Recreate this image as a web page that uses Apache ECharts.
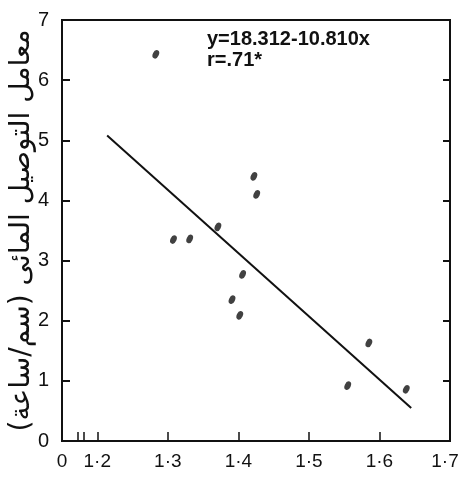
<!DOCTYPE html>
<html>
<head>
<meta charset="utf-8">
<script src="https://cdn.jsdelivr.net/npm/echarts@6/dist/echarts.min.js"></script>
<style>
html,body{margin:0;padding:0;background:#fff;}
#chart{width:461px;height:480px;}
</style>
</head>
<body>
<div id="chart"></div>
<script>
// Data
var bulkDensity = [1.283, 1.422, 1.426, 1.371, 1.308, 1.331, 1.406, 1.391, 1.402, 1.585, 1.555, 1.638];
var conductivity = [6.43, 4.40, 4.10, 3.56, 3.35, 3.36, 2.77, 2.35, 2.09, 1.63, 0.92, 0.86];
var fitX = [1.214, 1.645];
var fitY = [5.08, 0.55];
var xTickValues = [1.2, 1.3, 1.4, 1.5, 1.6, 1.7];
var xTickLabels = ['1·2', '1·3', '1·4', '1·5', '1·6', '1·7'];
var xBreakMarks = [1.173, 1.181];
var xOriginLabel = '0';
var yTickLabels = ['0', '1', '2', '3', '4', '5', '6', '7'];
var yAxisTitle = 'معامل التوصيل المائى (سم/ساعة)';
var equationText = 'y=18.312-10.810x';
var rText = 'r=.71*';

var xMin = 1.15, xMax = 1.7;
var narrow = "'Liberation Sans Narrow', 'Arial Narrow', 'Liberation Sans', sans-serif";

var points = bulkDensity.map(function (x, i) { return [x, conductivity[i]]; });
var fitLine = fitX.map(function (x, i) { return [x, fitY[i]]; });

var chart = echarts.init(document.getElementById('chart'));
chart.setOption({
  animation: false,
  backgroundColor: '#fff',
  grid: { left: 62, top: 20, right: 11, bottom: 39, show: true, borderColor: '#111', borderWidth: 2, containLabel: false, outerBoundsMode: 'none' },
  graphic: [
    { type: 'text', left: 207, top: 29, style: { text: equationText, font: "bold 20px " + narrow, fill: '#111' } },
    { type: 'text', left: 207, top: 50, style: { text: rText, font: "bold 20px " + narrow, fill: '#111' } }
  ],
  xAxis: [{
    type: 'value', min: xMin, max: xMax,
    axisLine: { show: true, onZero: false, lineStyle: { color: '#111', width: 2 } },
    axisTick: { show: true, inside: true, length: 9, customValues: xBreakMarks.concat(xTickValues), lineStyle: { color: '#111', width: 1.5 } },
    axisLabel: {
      customValues: [xMin].concat(xTickValues),
      margin: 11,
      color: '#111', fontFamily: narrow, fontSize: 19,
      rich: { last: { fontFamily: narrow, fontSize: 19, color: '#111', padding: [0, 10, 0, 0] } },
      formatter: function (v) {
        if (Math.abs(v - xMin) < 1e-6) return xOriginLabel;
        for (var i = 0; i < xTickValues.length; i++) {
          if (Math.abs(v - xTickValues[i]) < 1e-6) {
            return i === xTickValues.length - 1 ? '{last|' + xTickLabels[i] + '}' : xTickLabels[i];
          }
        }
        return '';
      }
    },
    splitLine: { show: false }
  }],
  yAxis: [{
    type: 'value', min: 0, max: 7, interval: 1,
    name: yAxisTitle, nameLocation: 'middle', nameRotate: 90, nameGap: 26, nameMoveOverlap: false,
    nameTextStyle: { fontFamily: "'DejaVu Sans', sans-serif", fontSize: 28, fontWeight: 'normal', color: '#111' },
    axisLine: { show: true, lineStyle: { color: '#111', width: 2 } },
    axisTick: { show: true, inside: true, length: 8, lineStyle: { color: '#111', width: 2 } },
    axisLabel: { color: '#111', fontFamily: narrow, fontSize: 20, margin: 13, formatter: function (v) { return yTickLabels[v]; } },
    splitLine: { show: false }
  }, {
    type: 'value', min: 0, max: 7, interval: 1, position: 'right',
    axisLine: { show: true, lineStyle: { color: '#111', width: 2 } },
    axisTick: { show: true, inside: true, length: 7, lineStyle: { color: '#111', width: 2 } },
    axisLabel: { show: false },
    splitLine: { show: false }
  }],
  series: [{
    type: 'line', data: fitLine, symbol: 'none',
    lineStyle: { color: '#111', width: 2 }, silent: true
  }, {
    type: 'scatter', data: points, symbol: 'circle', symbolSize: [6, 9], symbolRotate: -25,
    itemStyle: { color: '#111' }
  }]
});
</script>
</body>
</html>
